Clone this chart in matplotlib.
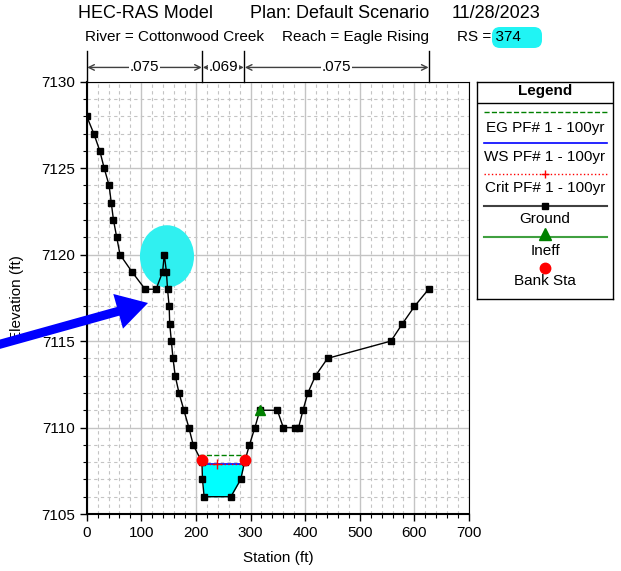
"""HEC-RAS cross section plot, RS 374 Cottonwood Creek / Eagle Rising."""

import matplotlib

matplotlib.use("Agg")
import matplotlib.pyplot as plt  # noqa: E402
from matplotlib.patches import Ellipse, FancyArrow, FancyBboxPatch  # noqa: E402
from matplotlib.ticker import MultipleLocator  # noqa: E402
import matplotlib.transforms as mtransforms  # noqa: E402

plt.rcParams["font.family"] = ["Liberation Sans", "DejaVu Sans"]

# ground survey points
station = [0, 13, 24, 32, 41, 45, 49, 55, 61, 83, 107, 127, 139, 142, 146, 148,
           151, 152, 155, 158, 162, 169, 178, 187, 195, 211, 212, 215, 264, 282,
           289, 298, 308, 317, 349, 360, 382, 388, 396, 405, 419, 441, 557, 578,
           600, 626]
elev = [7128, 7127, 7126, 7125, 7124, 7123, 7122, 7121, 7120, 7119, 7118, 7118,
        7119, 7120, 7119, 7118, 7117, 7116, 7115, 7114, 7113, 7112, 7111, 7110,
        7109, 7108, 7107, 7106, 7106, 7107, 7108, 7109, 7110, 7111, 7111, 7110,
        7110, 7110, 7111, 7112, 7113, 7114, 7115, 7116, 7117, 7118]

ws_elev = 7107.9
eg_elev = 7108.4
crit_elev = 7107.9
ws_sta = [211, 288]
eg_sta = [205, 293]
crit_mark_sta = 238
bank_sta = [211, 289]
bank_elev = [7108.1, 7108.1]
ineff_sta = [317]
ineff_elev = [7111]

# manning's n breaks
n_breaks = [0, 211.7, 288.6, 627]
n_values = [".075", ".069", ".075"]

W, H = 621, 571
fig = plt.figure(figsize=(W / 100, H / 100), dpi=100)
px = fig.dpi_scale_trans


def P(x, y):
    return x / 100, (H - y) / 100


ax = fig.add_axes([86.7 / W, 1 - 514 / H, (469 - 86.7) / W, (514 - 81.7) / H])
ax.set_xlim(0, 700)
ax.set_ylim(7105, 7130)
ax.xaxis.set_major_locator(MultipleLocator(100))
ax.xaxis.set_minor_locator(MultipleLocator(20))
ax.yaxis.set_major_locator(MultipleLocator(5))
ax.yaxis.set_minor_locator(MultipleLocator(1))
ax.grid(which="major", color="#c4c4c4", lw=1.0, ls="-")
ax.grid(which="minor", color="#c4c4c4", lw=0.8, ls=(0, (3, 3)))
ax.set_axisbelow(True)
ax.tick_params(which="major", direction="out", length=5, width=1, labelsize=11)
ax.tick_params(which="minor", direction="out", length=3, width=0.8)
for s in ("left", "bottom"):
    ax.spines[s].set_linewidth(1.5)
for s in ("top", "right"):
    ax.spines[s].set_linewidth(0.8)
ax.set_xlabel("Station (ft)", fontsize=11, labelpad=8)
ax.set_ylabel("Elevation (ft)", fontsize=11, labelpad=12)

# highlight blob behind the spike
ax.add_patch(Ellipse((147, 7119.9), 99, 3.6, color="#30f0f0", zorder=1.5, lw=0))

# water
ax.fill_between(station, elev, ws_elev,
                where=[(e <= ws_elev) and 200 < s < 300 for s, e in zip(station, elev)],
                interpolate=True, color="#00ffff", lw=0, zorder=2)
ax.plot(eg_sta, [eg_elev] * 2, color="#008000", ls="--", lw=1, zorder=3)
ax.plot(ws_sta, [ws_elev] * 2, color="#0000ff", lw=1.2, zorder=3)
ax.plot(ws_sta, [crit_elev] * 2, color="red", ls=":", lw=1, zorder=3.1)
ax.plot([crit_mark_sta], [crit_elev], marker="+", color="red", ms=7, mew=1, zorder=3.2)

ax.plot(station, elev, color="black", lw=1, marker="s", ms=5, zorder=4)
ax.plot(ineff_sta, ineff_elev, ls="none", marker="^", color="#008000", ms=7, zorder=5)
ax.plot(bank_sta, bank_elev, ls="none", marker="o", color="red", ms=7.5, zorder=5)

# n-value bar above plot
bt = mtransforms.blended_transform_factory(ax.transData, ax.transAxes)
for b in n_breaks:
    ax.plot([b, b], [1.0, 1.072], transform=bt, color="black", lw=1, clip_on=False)
for i, lab in enumerate(n_values):
    ax.annotate("", xy=(n_breaks[i] + 1, 1.033), xytext=(n_breaks[i + 1] - 1, 1.033),
                xycoords=bt, textcoords=bt,
                arrowprops=dict(arrowstyle="<->", color="#404040", lw=1,
                                shrinkA=0, shrinkB=0))
    ax.text((n_breaks[i] + n_breaks[i + 1]) / 2, 1.033, lab, transform=bt,
            ha="center", va="center", fontsize=11,
            bbox=dict(facecolor="white", edgecolor="none", pad=0.5))

# titles
fig.text(*P(78, 14), "HEC-RAS Model", transform=px, fontsize=13, va="center")
fig.text(*P(250, 14), "Plan: Default Scenario", transform=px, fontsize=13, va="center")
fig.text(*P(452, 14), "11/28/2023", transform=px, fontsize=13, va="center")
fig.add_artist(FancyBboxPatch(P(492, 48), 0.50, 0.21, transform=px,
                              boxstyle="round,pad=0,rounding_size=0.08",
                              facecolor="#20f4f4", edgecolor="none"))
fig.text(*P(85, 37), "River = Cottonwood Creek", transform=px, fontsize=11, va="center")
fig.text(*P(282, 37), "Reach = Eagle Rising", transform=px, fontsize=11, va="center")
fig.text(*P(457, 37), "RS = 374", transform=px, fontsize=11, va="center")

# big blue arrow
tail = P(-10, 347)
tip = P(148, 303)
fig.add_artist(FancyArrow(tail[0], tail[1], tip[0] - tail[0], tip[1] - tail[1],
                          width=0.09, head_width=0.36, head_length=0.31,
                          length_includes_head=True, transform=px,
                          color="#0000ff", lw=0, clip_on=False))

# legend box
lax = fig.add_axes([477.3 / W, 1 - 299 / H, (613 - 477.3) / W, (299 - 81.7) / H])
lax.set_xlim(477.3, 613)
lax.set_ylim(299, 81.7)
lax.set_xticks([])
lax.set_yticks([])
for s in lax.spines.values():
    s.set_linewidth(1)
lax.axhline(102.7, color="black", lw=1)
cx = 545
lax.text(cx, 91, "Legend", ha="center", va="center", fontsize=11, weight="bold")
x0, x1 = 484, 607
lax.plot([x0, x1], [112.3] * 2, color="#008000", ls="--", lw=1)
lax.text(cx, 128, "EG PF# 1 - 100yr", ha="center", va="center", fontsize=11)
lax.plot([x0, x1], [143.3] * 2, color="#0000ff", lw=1.2)
lax.text(cx, 157, "WS PF# 1 - 100yr", ha="center", va="center", fontsize=11)
lax.plot([x0, x1], [174.3] * 2, color="red", ls=":", lw=1)
lax.plot([cx], [174.3], marker="+", color="red", ms=6, mew=1)
lax.text(cx, 188, "Crit PF# 1 - 100yr", ha="center", va="center", fontsize=11)
lax.plot([x0, x1], [205.7] * 2, color="#404040", lw=1.5)
lax.plot([cx], [205.7], marker="s", color="black", ms=5)
lax.text(cx, 219.5, "Ground", ha="center", va="center", fontsize=11)
lax.plot([x0, x1], [236.7] * 2, color="#40a040", lw=1.5)
lax.plot([cx], [234.5], marker="^", color="#008000", ms=8)
lax.text(cx, 251, "Ineff", ha="center", va="center", fontsize=11)
lax.plot([cx], [267.7], marker="o", color="red", ms=7.5)
lax.text(cx, 281.5, "Bank Sta", ha="center", va="center", fontsize=11)

fig.savefig("out.png", dpi=100)
